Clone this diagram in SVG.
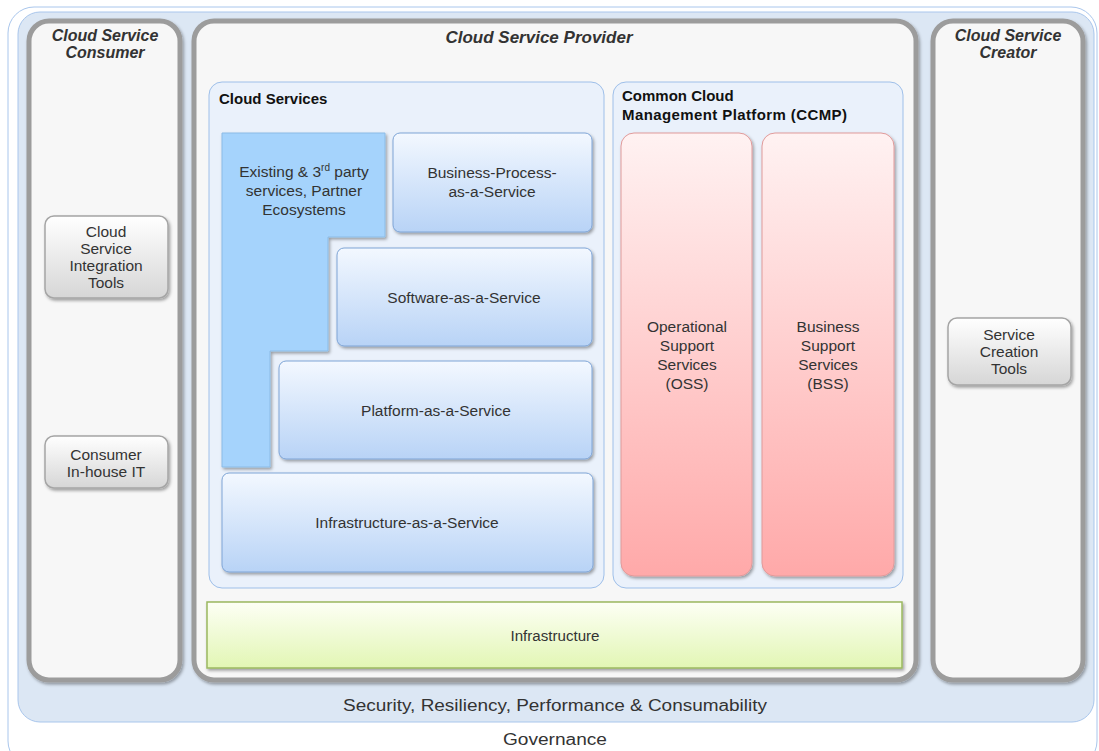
<svg xmlns="http://www.w3.org/2000/svg" width="1099" height="751" viewBox="0 0 1099 751">
<defs>
<linearGradient id="gBlue" x1="0" y1="0" x2="0" y2="1"><stop offset="0" stop-color="#f3f8ff"/><stop offset="1" stop-color="#b8d3f6"/></linearGradient>
<linearGradient id="gPink" x1="0" y1="0" x2="0" y2="1"><stop offset="0" stop-color="#fff2f2"/><stop offset="1" stop-color="#ffa9a9"/></linearGradient>
<linearGradient id="gGreen" x1="0" y1="0" x2="0" y2="1"><stop offset="0" stop-color="#fdfff5"/><stop offset="1" stop-color="#e2f6b4"/></linearGradient>
<linearGradient id="gGrey" x1="0" y1="0" x2="0" y2="1"><stop offset="0" stop-color="#ffffff"/><stop offset="1" stop-color="#d6d6d6"/></linearGradient>
<filter id="sh" x="-10%" y="-10%" width="125%" height="125%"><feDropShadow dx="1.5" dy="2" stdDeviation="1.5" flood-color="#000" flood-opacity="0.35"/></filter>
</defs>
<style>
text{font-family:"Liberation Sans",Arial,sans-serif;fill:#333;text-anchor:middle}
.t13{font-size:15.5px}
.col{fill:#f7f7f7;stroke:#9c9c9c;stroke-width:5}
.title{font-size:16px;font-weight:bold;font-style:italic;fill:#333}
.ptitle{font-size:17px;font-weight:bold;font-style:italic;fill:#333}
.grp{fill:#eaf1fb;stroke:#9ebfe9;stroke-width:1}
.gl{font-size:15px;font-weight:bold;fill:#111;text-anchor:start}
.blue{fill:url(#gBlue);stroke:#7ea4d6;stroke-width:1}
.pink{fill:url(#gPink);stroke:#e09a9a;stroke-width:1}
.grey{fill:url(#gGrey);stroke:#a5a5a5;stroke-width:1.5}
</style>
<g id="governance">
<rect x="8" y="7" width="1089" height="760" rx="26" fill="#ffffff" stroke="#a9c6ec" stroke-width="1"/>
<text x="555" y="745" style="font-size:16px" textLength="104" lengthAdjust="spacingAndGlyphs">Governance</text>
</g>
<g id="security">
<rect x="18" y="12" width="1076" height="710" rx="22" fill="#dce7f4" stroke="#a9c6ec" stroke-width="1"/>
<text x="555" y="711" style="font-size:16px" textLength="424" lengthAdjust="spacingAndGlyphs">Security, Resiliency, Performance &amp; Consumability</text>
</g>
<g id="consumer">
<rect x="29" y="21" width="151" height="659" rx="20" class="col" filter="url(#sh)"/>
<text x="105" y="41" class="title">Cloud Service</text>
<text x="105" y="58" class="title">Consumer</text>
</g>
<g id="provider">
<rect x="194" y="21" width="722" height="659" rx="20" class="col" filter="url(#sh)"/>
<text x="539" y="43" class="ptitle">Cloud Service Provider</text>
</g>
<g id="creator">
<rect x="933" y="21" width="150" height="659" rx="20" class="col" filter="url(#sh)"/>
<text x="1008" y="41" class="title">Cloud Service</text>
<text x="1008" y="58" class="title">Creator</text>
</g>
<g id="cloud-services">
<rect x="209" y="82" width="395" height="506" rx="13" class="grp"/>
<text x="219" y="104" class="gl">Cloud Services</text>
</g>
<g id="ccmp">
<rect x="613" y="82" width="290" height="506" rx="13" class="grp"/>
<text x="622" y="101" class="gl">Common Cloud</text>
<text x="622" y="120" class="gl" textLength="225">Management Platform (CCMP)</text>
</g>
<g id="existing">
<path d="M222,133 H385 V237 H328 V351 H270 V467 H222 Z" fill="#a5d3fc" stroke="#8bbbe6" stroke-width="1" filter="url(#sh)"/>
<text x="304" y="177" class="t13">Existing &amp; 3<tspan dy="-6" style="font-size:10px">rd</tspan><tspan dy="6"> party</tspan></text>
<text x="304" y="196" class="t13">services, Partner</text>
<text x="304" y="215" class="t13">Ecosystems</text>
</g>
<g id="bpaas">
<rect x="393" y="133" width="199" height="99" rx="7" class="blue" filter="url(#sh)"/>
<text x="492" y="178" class="t13">Business-Process-</text>
<text x="492" y="197" class="t13">as-a-Service</text>
</g>
<g id="saas">
<rect x="337" y="248" width="255" height="98" rx="7" class="blue" filter="url(#sh)"/>
<text x="464" y="303" class="t13">Software-as-a-Service</text>
</g>
<g id="paas">
<rect x="279" y="361" width="313" height="98" rx="7" class="blue" filter="url(#sh)"/>
<text x="436" y="416" class="t13">Platform-as-a-Service</text>
</g>
<g id="iaas">
<rect x="222" y="473" width="371" height="99" rx="7" class="blue" filter="url(#sh)"/>
<text x="407" y="528" class="t13">Infrastructure-as-a-Service</text>
</g>
<g id="oss">
<rect x="621" y="133" width="131" height="443" rx="13" class="pink" filter="url(#sh)"/>
<text x="687" y="332" class="t13">Operational</text>
<text x="687" y="351" class="t13">Support</text>
<text x="687" y="370" class="t13">Services</text>
<text x="687" y="389" class="t13">(OSS)</text>
</g>
<g id="bss">
<rect x="762" y="133" width="132" height="443" rx="13" class="pink" filter="url(#sh)"/>
<text x="828" y="332" class="t13">Business</text>
<text x="828" y="351" class="t13">Support</text>
<text x="828" y="370" class="t13">Services</text>
<text x="828" y="389" class="t13">(BSS)</text>
</g>
<g id="infrastructure">
<rect x="207" y="602" width="695" height="66" fill="url(#gGreen)" stroke="#9bb85f" stroke-width="1.5" filter="url(#sh)"/>
<text x="555" y="641" style="font-size:14px" textLength="89" lengthAdjust="spacingAndGlyphs">Infrastructure</text>
</g>
<g id="integration-tools">
<rect x="45" y="216" width="123" height="82" rx="9" class="grey" filter="url(#sh)"/>
<text x="106" y="237" class="t13">Cloud</text>
<text x="106" y="254" class="t13">Service</text>
<text x="106" y="271" class="t13">Integration</text>
<text x="106" y="288" class="t13">Tools</text>
</g>
<g id="inhouse-it">
<rect x="45" y="436" width="123" height="52" rx="9" class="grey" filter="url(#sh)"/>
<text x="106" y="460" class="t13">Consumer</text>
<text x="106" y="477" class="t13">In-house IT</text>
</g>
<g id="creation-tools">
<rect x="948" y="318" width="123" height="67" rx="9" class="grey" filter="url(#sh)"/>
<text x="1009" y="340" class="t13">Service</text>
<text x="1009" y="357" class="t13">Creation</text>
<text x="1009" y="374" class="t13">Tools</text>
</g>
<g id="connectors"/>
</svg>
